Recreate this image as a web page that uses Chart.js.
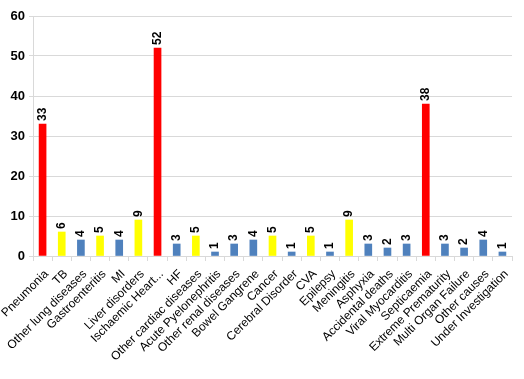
<!DOCTYPE html>
<html>
<head>
<meta charset="utf-8">
<script src="https://cdn.jsdelivr.net/npm/chart.js@4/dist/chart.umd.min.js"></script>
<style>
  html, body { margin: 0; padding: 0; background: #fff; }
  #wrap { width: 524px; height: 379px; }
</style>
</head>
<body>
<div id="wrap"><canvas id="chart" width="524" height="379"></canvas></div>
<script>
// causes of death
const categories = [
  "Pneumonia", "TB", "Other lung diseases", "Gastroenteritis", "MI",
  "Liver disorders", "Ischaemic Heart...", "HF", "Other cardiac diseases",
  "Acute Pyelonephritis", "Other renal diseases", "Bowel Gangrene", "Cancer",
  "Cerebral Disorder", "CVA", "Epilepsy", "Meningitis", "Asphyxia",
  "Accidental deaths", "Viral Myocarditis", "Septicaemia",
  "Extreme Prematurity", "Multi Organ Failure", "Other causes",
  "Under Investigation"
];
const deaths = [33, 6, 4, 5, 4, 9, 52, 3, 5, 1, 3, 4, 5, 1, 5, 1, 9, 3, 2, 3, 38, 3, 2, 4, 1];
// r = red, y = yellow, b = blue
const groups = ["r", "y", "b", "y", "b", "y", "r", "b", "y", "b", "b", "b", "y",
  "b", "y", "b", "y", "b", "b", "b", "r", "b", "b", "b", "b"];
const yTicks = [0, 10, 20, 30, 40, 50, 60];

const palette = { r: "#FF0000", y: "#FFFF00", b: "#4F81BD" };
const FONT = "'Liberation Sans', Arial, sans-serif";

// values written sideways just over each bar
const barLabels = {
  id: "barLabels",
  afterDatasetsDraw(chart) {
    const ctx = chart.ctx;
    const meta = chart.getDatasetMeta(0);
    ctx.save();
    ctx.font = "bold 12px " + FONT;
    ctx.fillStyle = "#000";
    ctx.textAlign = "left";
    ctx.textBaseline = "middle";
    meta.data.forEach((bar, i) => {
      ctx.save();
      ctx.translate(bar.x, bar.y - 3);
      ctx.rotate(-Math.PI / 2);
      ctx.fillText(String(deaths[i]), 0, 0);
      ctx.restore();
    });
    ctx.restore();
  }
};

new Chart(document.getElementById("chart"), {
  type: "bar",
  data: {
    labels: categories,
    datasets: [{
      data: deaths,
      backgroundColor: groups.map(g => palette[g]),
      barThickness: 7
    }]
  },
  options: {
    responsive: false,
    animation: false,
    layout: { padding: { top: 16, right: 12, left: 0, bottom: 0 } },
    plugins: { legend: { display: false }, tooltip: { enabled: false } },
    scales: {
      x: {
        grid: { drawOnChartArea: false, color: "#D9D9D9", tickLength: 5, offset: true },
        border: { color: "#D9D9D9" },
        ticks: {
          autoSkip: false, maxRotation: 45, minRotation: 45,
          color: "#000", padding: 6, labelOffset: 4,
          font: { family: FONT, size: 12 }
        },
        afterFit(axis) {
          axis.height = 123;
          axis.paddingLeft = 0;
          axis.paddingRight = 0;
        }
      },
      y: {
        min: 0, max: 60,
        afterBuildTicks(axis) { axis.ticks = yTicks.map(v => ({ value: v })); },
        grid: { color: "#D9D9D9", tickLength: 4 },
        border: { color: "#D9D9D9" },
        ticks: { color: "#000", padding: 4, font: { family: FONT, size: 13, weight: "bold" } },
        afterFit(axis) { axis.width = 33; }
      }
    }
  },
  plugins: [barLabels]
});
</script>
</body>
</html>
